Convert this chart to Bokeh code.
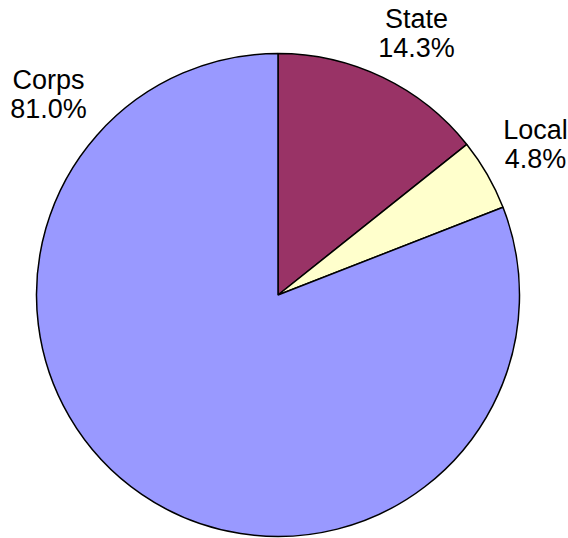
import math
from bokeh.plotting import figure
from bokeh.models import ColumnDataSource
from bokeh.core.properties import value
from bokeh.embed import file_html
from bokeh.resources import INLINE

# Data
categories = ["State", "Local", "Corps"]
shares = [14.3, 4.8, 81.0]
colors = ["#993366", "#FFFFCC", "#9999FF"]

# Layout (data units == pixels)
W, H = 568, 538
cx, cy, r = 277.5, H - 294.5, 241.5
label_x = [416, 535, 48]
label_top = [18, 129, 79]      # first-line anchor, from top
line_gap = 29

total = sum(shares)
starts, ends = [], []
acc = 0.0
for v in shares:
    a0 = math.pi / 2 - 2 * math.pi * acc / total
    acc += v
    a1 = math.pi / 2 - 2 * math.pi * acc / total
    starts.append(a0)
    ends.append(a1)

src = ColumnDataSource(dict(cat=categories, val=shares, color=colors,
                            start=starts, end=ends))

p = figure(width=W, height=H, x_range=(0, W), y_range=(0, H),
           output_backend="svg", toolbar_location=None,
           min_border=0, min_border_left=0, min_border_right=0,
           min_border_top=0, min_border_bottom=0)
p.axis.visible = False
p.grid.visible = False
p.outline_line_color = None
p.background_fill_color = "white"

p.wedge(x=cx, y=cy, radius=r, start_angle="start", end_angle="end",
        direction="clock", fill_color="color", line_color="black",
        line_width=1.5, source=src)

names = [c for c in categories]
pcts = ["%.1f%%" % v for v in shares]
y1 = [H - t for t in label_top]
p.text(x=label_x, y=y1, text=names, text_align="center",
       text_baseline="alphabetic", text_font=value("Liberation Sans"),
       text_font_size="27px", text_color="black")
p.text(x=label_x, y=[y - line_gap for y in y1], text=pcts,
       text_align="center", text_baseline="alphabetic",
       text_font=value("Liberation Sans"), text_font_size="27px",
       text_color="black")

open("out.html", "w").write(file_html(p, INLINE))
